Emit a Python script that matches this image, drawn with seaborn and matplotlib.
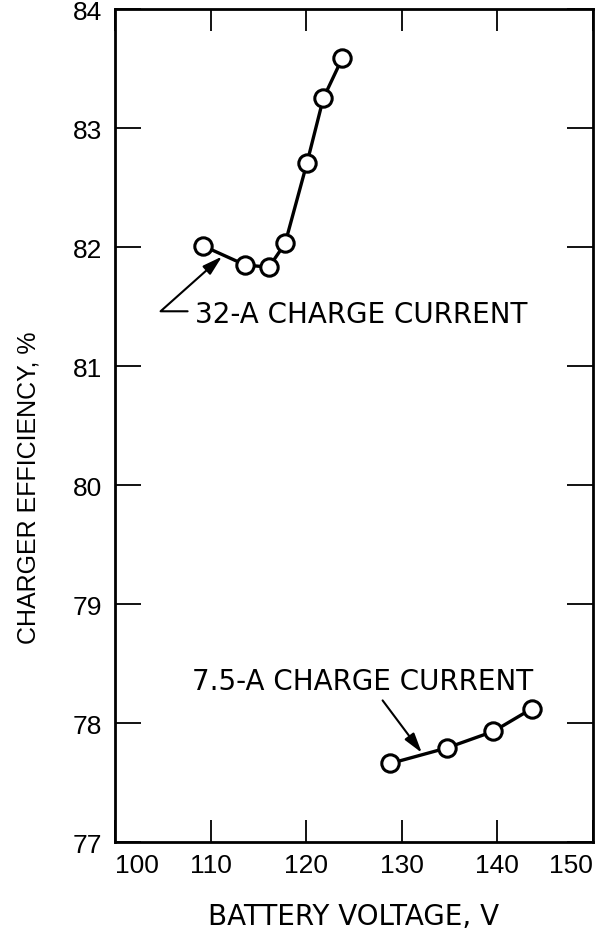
import matplotlib
matplotlib.use("Agg")
import matplotlib.pyplot as plt
import seaborn as sns
import pandas as pd

# 32-A charge current series
v_32a = [109.2, 113.6, 116.1, 117.8, 120.1, 121.8, 123.8]
eff_32a = [82.01, 81.85, 81.83, 82.03, 82.71, 83.25, 83.59]

# 7.5-A charge current series
v_75a = [128.8, 134.7, 139.6, 143.6]
eff_75a = [77.66, 77.79, 77.93, 78.12]

x_ticks = [100, 110, 120, 130, 140, 150]
y_ticks = [77, 78, 79, 80, 81, 82, 83, 84]

sns.set_style("ticks")
plt.rcParams['font.family'] = ['DejaVu Sans']
plt.rcParams['text.color'] = 'black'
plt.rcParams['axes.labelcolor'] = 'black'

narrow = ['Liberation Sans', 'DejaVu Sans']

df32 = pd.DataFrame({'v': v_32a, 'eff': eff_32a})
df75 = pd.DataFrame({'v': v_75a, 'eff': eff_75a})

fig = plt.figure(figsize=(6.05, 9.37), dpi=100)
ax = fig.add_axes([0.190, 0.1003, 0.790, 0.8890])

style = dict(color='black', linewidth=2.4, marker='o', markersize=12.5,
             markerfacecolor='white', markeredgecolor='black', markeredgewidth=2.2)
sns.lineplot(data=df32, x='v', y='eff', ax=ax, **style)
sns.lineplot(data=df75, x='v', y='eff', ax=ax, **style)

ax.set_xlim(100, 150)
ax.set_ylim(77, 84)
ax.set_xticks(x_ticks)
ax.set_yticks(y_ticks)

for s in ax.spines.values():
    s.set_linewidth(2.0)
    s.set_color('black')

ax.tick_params(axis='x', direction='in', length=16, width=1.3, top=True, bottom=True, pad=8, colors='black')
ax.tick_params(axis='y', direction='in', length=19, width=1.3, left=True, right=True, pad=9, colors='black')

for lab in ax.get_xticklabels() + ax.get_yticklabels():
    lab.set_family(narrow)
    lab.set_fontsize(19)
xl = ax.get_xticklabels()
xl[0].set_horizontalalignment('left')
xl[-1].set_horizontalalignment('right')

ax.set_xlabel('BATTERY VOLTAGE, V', fontsize=20, labelpad=18)
ax.set_ylabel('CHARGER EFFICIENCY, %', fontsize=18, family=narrow)
ax.yaxis.set_label_coords(-0.155, 0.427)

# annotations
arrow = dict(arrowstyle='-|>,head_length=1.2,head_width=0.35', color='black',
             lw=1.5, shrinkA=0, shrinkB=0)
ax.text(108.4, 81.37, '32-A CHARGE CURRENT', fontsize=20, ha='left', va='baseline')
ax.annotate('', xy=(111.2, 81.92), xytext=(107.6, 81.46),
            arrowprops=dict(arrow, connectionstyle='angle,angleA=180,angleB=41.7,rad=0'))

ax.text(125.9, 78.29, '7.5-A CHARGE CURRENT', fontsize=20, ha='center', va='baseline')
ax.annotate('', xy=(132.1, 77.75), xytext=(128.0, 78.19), arrowprops=arrow)

fig.savefig('out.png', dpi=100, facecolor='white')
